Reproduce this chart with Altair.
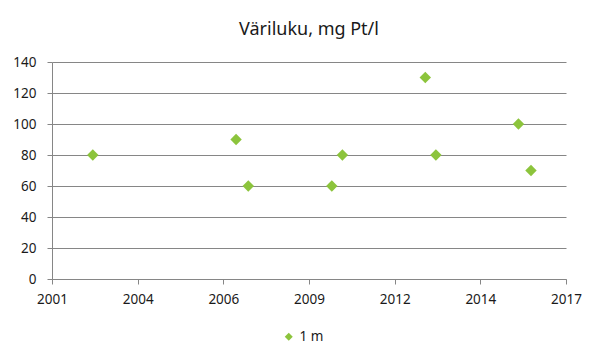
import altair as alt
import pandas as pd

# Sampling dates (decimal years) and colour values
dates = [2002.77, 2007.23, 2007.61, 2010.21, 2010.54, 2013.12, 2013.45, 2016.02, 2016.41]
values = [80, 90, 60, 60, 80, 130, 80, 100, 70]
series = ["1 m"] * len(values)

x_ticks = [2001.5, 2004.1667, 2006.8333, 2009.5, 2012.1667, 2014.8333, 2017.5]
y_ticks = [0, 20, 40, 60, 80, 100, 120, 140]

df = pd.DataFrame({"date": dates, "value": values, "series": series})

FONT = "Noto Sans"
GRID = "#868686"

chart = alt.Chart(df).mark_point(shape="diamond", filled=True, size=130, opacity=1).encode(
    x=alt.X("date:Q",
            scale=alt.Scale(domain=[x_ticks[0], x_ticks[-1]], nice=False, zero=False),
            axis=alt.Axis(values=x_ticks, labelExpr="floor(datum.value)", grid=False,
                          title=None, tickSize=5, labelPadding=8, domainColor=GRID,
                          tickColor=GRID, labelFont=FONT, labelFontSize=13.5,
                          labelColor="#1a1a1a", labelFlush=False, labelOverlap=False)),
    y=alt.Y("value:Q",
            scale=alt.Scale(domain=[0, 140], nice=False),
            axis=alt.Axis(values=y_ticks, grid=True, gridColor=GRID, title=None,
                          tickSize=5, labelPadding=11, domainColor=GRID, tickColor=GRID,
                          labelFont=FONT, labelFontSize=13.5, labelColor="#1a1a1a")),
    color=alt.Color("series:N", scale=alt.Scale(range=["#8CC43C"]),
                    legend=alt.Legend(title=None, orient="none", legendX=230, legendY=268,
                                      symbolType="diamond", symbolSize=64, padding=0,
                                      labelFont=FONT, labelFontSize=13.5,
                                      labelColor="#1a1a1a", symbolStrokeWidth=0)),
).properties(
    width=514,
    height=217,
    title=alt.TitleParams("Väriluku, mg Pt/l", font=FONT, fontSize=18, fontWeight="normal",
                          color="#1a1a1a", anchor="middle", offset=16),
    autosize=alt.AutoSizeParams(type="none"),
    padding={"left": 44, "top": 54, "right": 27, "bottom": 75},
).configure_view(stroke=None).configure_axis(domainWidth=1, gridWidth=1)

chart.save("out.html", embed_options={"renderer": "svg", "actions": False})
